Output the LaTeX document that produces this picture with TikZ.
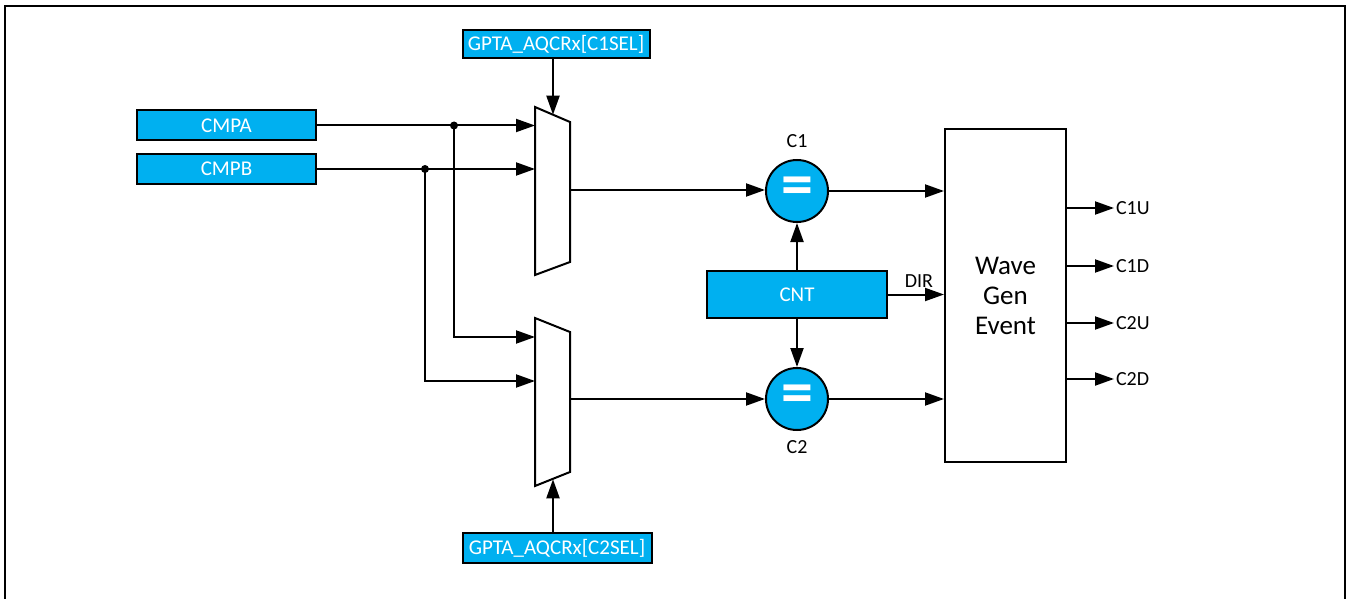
\documentclass[tikz,border=0pt]{standalone}
\usepackage{fontspec}
\setmainfont{Carlito}
\usetikzlibrary{arrows.meta}
\definecolor{cblue}{HTML}{00B0F0}
\begin{document}
\begin{tikzpicture}[x=1pt,y=-1pt,line width=2pt,
  blk/.style={draw,fill=cblue,text=white,font=\fontsize{21}{24}\selectfont,inner sep=0pt,line width=2pt},
  cmp/.style={circle,draw,fill=cblue,text=white,minimum size=62pt,inner sep=0pt,line width=2pt,font=\fontsize{64}{64}\selectfont\bfseries},
  lbl/.style={font=\fontsize{20}{22}\selectfont,inner sep=1pt},
  arr/.style={-{Triangle[length=19pt,width=13pt]}},
  dot/.style={circle,fill=black,inner sep=0pt,minimum size=8pt}]
\useasboundingbox (0,0) rectangle (1353,599);
% outer frame
\draw[line width=2.2pt] (5,600) -- (5,6) -- (1345,6) -- (1345,600);
% input boxes
\node[blk,minimum width=179pt,minimum height=30pt] (cmpa) at (226.5,125.5) {CMPA};
\node[blk,minimum width=179pt,minimum height=30pt] (cmpb) at (226.5,169) {CMPB};
\node[blk,minimum width=187pt,minimum height=28pt] (sel1) at (556,44) {GPTA\_AQCRx[C1SEL]};
\node[blk,minimum width=189pt,minimum height=30pt] (sel2) at (557,548) {GPTA\_AQCRx[C2SEL]};
% multiplexers
\draw[line width=2pt,fill=white] (535,107) -- (570,122) -- (570,262) -- (535,275) -- cycle;
\draw[line width=2pt,fill=white] (535,318) -- (570,332) -- (570,472) -- (535,486) -- cycle;
\coordinate (m1a) at (535,125.5);
\coordinate (m1b) at (535,169);
\coordinate (m1s) at (553,114.7);
\coordinate (m1o) at (570,190);
\coordinate (m2a) at (535,337);
\coordinate (m2b) at (535,381);
\coordinate (m2s) at (553,479.3);
\coordinate (m2o) at (570,399);
% comparators
\node[cmp] (c1) at (797,191) {=};
\node[cmp] (c2) at (797,399) {=};
\node[lbl,anchor=south] (c1l) at (797,150) {C1};
\node[lbl,anchor=north] (c2l) at (797,439) {C2};
% counter
\node[blk,minimum width=180pt,minimum height=47pt] (cnt) at (797,294.5) {CNT};
% wave gen
\node[draw,line width=2pt,minimum width=121pt,minimum height=333pt,inner sep=0pt,align=center,font=\fontsize{27}{30}\selectfont] (wave) at (1005.5,295.5) {Wave\\Gen\\Event};
% dots
\node[dot] (da) at (454,125.5) {};
\node[dot] (db) at (425,169) {};
% connections
\draw[arr] (cmpa.east) -- (m1a);
\draw[arr] (cmpb.east) -- (m1b);
\draw[arr] (da.center) |- (m2a);
\draw[arr] (db.center) |- (m2b);
\draw[arr] (sel1.south -| m1s) -- (m1s);
\draw[arr] (sel2.north -| m2s) -- (m2s);
\draw[arr] (m1o) -- (c1.west |- m1o);
\draw[arr] (m2o) -- (c2.west);
\draw[arr] (c1.east) -- (wave.west |- c1.east);
\draw[arr] (c2.east) -- (wave.west |- c2.east);
\draw[arr] (cnt.north) -- (c1.south);
\draw[arr] (cnt.south) -- (c2.north);
\draw[arr] (cnt.east) -- node[lbl,above=5pt,xshift=3pt] (dir) {DIR} (wave.west |- cnt.east);
% outputs
\coordinate (o1) at (1114,208);
\coordinate (o2) at (1114,266);
\coordinate (o3) at (1114,323);
\coordinate (o4) at (1114,379);
\draw[arr] (wave.east |- o1) -- (o1);
\draw[arr] (wave.east |- o2) -- (o2);
\draw[arr] (wave.east |- o3) -- (o3);
\draw[arr] (wave.east |- o4) -- (o4);
\node[lbl,anchor=west] (l1) at (o1) {C1U};
\node[lbl,anchor=west] (l2) at (o2) {C1D};
\node[lbl,anchor=west] (l3) at (o3) {C2U};
\node[lbl,anchor=west] (l4) at (o4) {C2D};
\end{tikzpicture}
\end{document}
